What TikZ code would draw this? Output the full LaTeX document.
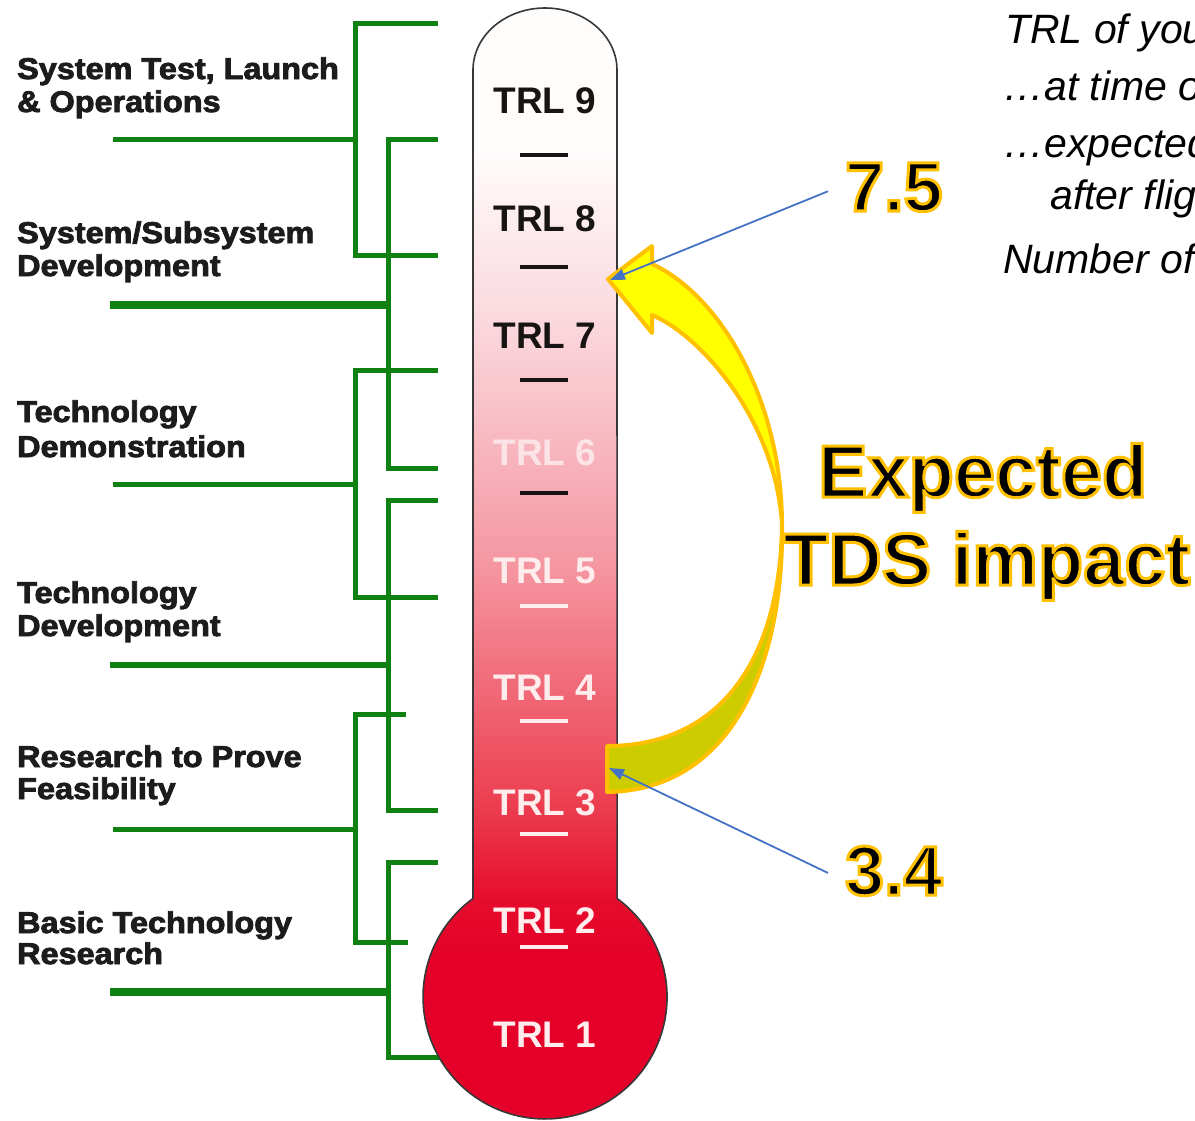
\documentclass[tikz,border=0pt]{standalone}
\usepackage{fontspec}
\setmainfont{Liberation Sans}
\usepackage{graphicx}
\usetikzlibrary{arrows.meta}
\definecolor{trlgreen}{RGB}{16,128,16}
\definecolor{labelgray}{RGB}{28,28,28}
\definecolor{darktrl}{RGB}{25,20,20}
\definecolor{lighttrl}{RGB}{255,236,236}
\definecolor{faintrl}{RGB}{252,228,230}
\definecolor{arrowblue}{RGB}{68,114,196}
\definecolor{arrowgold}{RGB}{255,192,0}
\definecolor{arrowyellow}{RGB}{255,255,0}
\definecolor{arrowolive}{RGB}{204,204,0}
\definecolor{bulbred}{RGB}{228,0,40}
\definecolor{tA}{RGB}{255,252,252}
\definecolor{tB}{RGB}{250,214,220}
\definecolor{tC}{RGB}{245,152,162}
\definecolor{tD}{RGB}{236,64,82}
\definecolor{tE}{RGB}{230,12,44}
\newcommand\goldoutline[1]{\special{pdf:literal direct 2 Tr 3 w 1 0.753 0 RG 0 g}#1\special{pdf:literal direct 0 Tr}}
\newcommand\heavier[1]{\special{pdf:literal direct 2 Tr 0.8 w 0.11 0.11 0.11 RG}#1\special{pdf:literal direct 0 Tr}}
\begin{document}
\begin{tikzpicture}[x=1pt,y=-1pt,
  gline/.style={draw=trlgreen,line width=5pt,line join=miter},
  glabel/.style={anchor=base west,inner sep=0pt,text=labelgray,font=\fontsize{30}{33}\selectfont\bfseries},
  trl/.style={anchor=base,inner sep=0pt,font=\fontsize{37}{40}\selectfont\bfseries},
  tickmark/.style={line width=4.5pt},
  rtext/.style={anchor=base west,inner sep=0pt,font=\fontsize{41}{45}\selectfont\itshape},
  bignum/.style={anchor=base west,inner sep=0pt,font=\fontsize{70}{80}\selectfont\bfseries},
  bigtext/.style={anchor=base west,inner sep=0pt,font=\fontsize{74}{80}\selectfont\bfseries},
  bluearrow/.style={draw=arrowblue,line width=1.8pt,-{Triangle[length=15pt,width=11pt]}},
  band/.style={draw=arrowgold,line width=4pt,line join=round}]
\clip (0,0) rectangle (1195,1120);
\fill[white] (0,0) rectangle (1195,1120);

% green brackets
\draw[gline] (438,23) -- (355,23) -- (355,255) -- (438,255);
\draw[gline] (113,139) -- (355,139);
\draw[gline] (438,139) -- (388,139) -- (388,468) -- (438,468);
\draw[gline,line width=8pt] (110,305) -- (388,305);
\draw[gline] (438,370) -- (355,370) -- (355,597) -- (438,597);
\draw[gline] (113,484) -- (355,484);
\draw[gline] (438,500) -- (388,500) -- (388,810) -- (438,810);
\draw[gline,line width=6pt] (110,665) -- (388,665);
\draw[gline] (406,714) -- (355,714) -- (355,942) -- (408,942);
\draw[gline] (113,829) -- (355,829);
\draw[gline] (438,862) -- (388,862) -- (388,1057) -- (442,1057);
\draw[gline,line width=8pt] (110,992) -- (388,992);

% left labels
\node[glabel] (l1a) at (17,79) {\scalebox{1.08}[1]{\heavier{System Test, Launch}}};
\node[glabel] (l1b) at (17,112) {\scalebox{1.08}[1]{\heavier{\& Operations}}};
\node[glabel] (l2a) at (17,243) {\scalebox{1.08}[1]{\heavier{System/Subsystem}}};
\node[glabel] (l2b) at (17,276) {\scalebox{1.08}[1]{\heavier{Development}}};
\node[glabel] (l3a) at (17,422) {\scalebox{1.08}[1]{\heavier{Technology}}};
\node[glabel] (l3b) at (17,457) {\scalebox{1.08}[1]{\heavier{Demonstration}}};
\node[glabel] (l4a) at (17,603) {\scalebox{1.08}[1]{\heavier{Technology}}};
\node[glabel] (l4b) at (17,636) {\scalebox{1.08}[1]{\heavier{Development}}};
\node[glabel] (l5a) at (17,767) {\scalebox{1.08}[1]{\heavier{Research to Prove}}};
\node[glabel] (l5b) at (17,799) {\scalebox{1.08}[1]{\heavier{Feasibility}}};
\node[glabel] (l6a) at (17,933) {\scalebox{1.08}[1]{\heavier{Basic Technology}}};
\node[glabel] (l6b) at (17,964) {\scalebox{1.08}[1]{\heavier{Research}}};

% thermometer fill
\begin{scope}
\clip (473,70) -- (473,898.5) arc[start angle=126.2,end angle=413.8,radius=122pt] -- (617,70) arc[start angle=0,end angle=180,x radius=72pt,y radius=62pt] -- cycle;
\fill[tA] (460,0) rectangle (630,151);
\shade[top color=tA,bottom color=tB] (460,150) rectangle (630,331);
\shade[top color=tB,bottom color=tC] (460,330) rectangle (630,561);
\shade[top color=tC,bottom color=tD] (460,560) rectangle (630,801);
\shade[top color=tD,bottom color=tE] (460,800) rectangle (630,901);
\shade[top color=tE,bottom color=bulbred] (410,900) rectangle (680,960);
\fill[bulbred] (410,959) rectangle (680,1120);
\end{scope}
\draw[line width=1.6pt,draw=black!78,line join=round] (473,70) -- (473,898.5) arc[start angle=126.2,end angle=413.8,radius=122pt] -- (617,70) arc[start angle=0,end angle=180,x radius=72pt,y radius=62pt] -- cycle;

% TRL labels and dashes
\node[trl,text=darktrl] (t9) at (545,113) {TRL 9};
\node[trl,text=darktrl] (t8) at (545,231) {TRL 8};
\node[trl,text=darktrl] (t7) at (545,348) {TRL 7};
\node[trl,text=faintrl] (t6) at (545,465) {TRL 6};
\node[trl,text=lighttrl] (t5) at (545,583) {TRL 5};
\node[trl,text=lighttrl] (t4) at (545,700) {TRL 4};
\node[trl,text=lighttrl] (t3) at (545,815) {TRL 3};
\node[trl,text=lighttrl] (t2) at (545,933) {TRL 2};
\node[trl,text=lighttrl] (t1) at (545,1047) {TRL 1};
\draw[tickmark,darktrl] (520,155) -- (568,155);
\draw[tickmark,darktrl] (520,267) -- (568,267);
\draw[tickmark,darktrl] (520,380) -- (568,380);
\draw[tickmark,darktrl] (520,493) -- (568,493);
\draw[tickmark,lighttrl] (520,606) -- (568,606);
\draw[tickmark,lighttrl] (520,721) -- (568,721);
\draw[tickmark,lighttrl] (520,834) -- (568,834);
\draw[tickmark,lighttrl] (520,947) -- (568,947);

% yellow curved arrow
\filldraw[band,fill=arrowolive] (782,525) .. controls (784,650) and (740,790) .. (607,792) -- (607,746) .. controls (720,746) and (780,660) .. (782,525) -- cycle;
\filldraw[band,fill=arrowyellow] (782,525) .. controls (782,400) and (720,295) .. (652,264) -- (652,246) -- (608,279) -- (652,333) -- (652,315) .. controls (700,335) and (776,420) .. (782,525) -- cycle;

% right text
\node[rtext] (r1) at (1005,43) {TRL of your};
\node[rtext] (r2) at (1003,100) {…at time of};
\node[rtext] (r3) at (1003,157) {…expected};
\node[rtext] (r4) at (1050,209) {after flight};
\node[rtext] (r5) at (1003,273) {Number of};

% blue pointers
\coordinate (tip75) at (610,280);
\coordinate (tip34) at (609,768);
\node[bignum] (n75) at (845,211) {\goldoutline{7.5}};
\node[bignum] (n34) at (845,895) {\goldoutline{3.4}};
\draw[bluearrow] ([xshift=-17pt,yshift=-4pt]n75.west) -- (tip75);
\draw[bluearrow] ([xshift=-17pt,yshift=-2pt]n34.west) -- (tip34);

% big caption
\node[bigtext] (e1) at (818,497) {\goldoutline{Expected}};
\node[bigtext] (e2) at (783,585) {\goldoutline{TDS impact}};
\end{tikzpicture}
\end{document}
